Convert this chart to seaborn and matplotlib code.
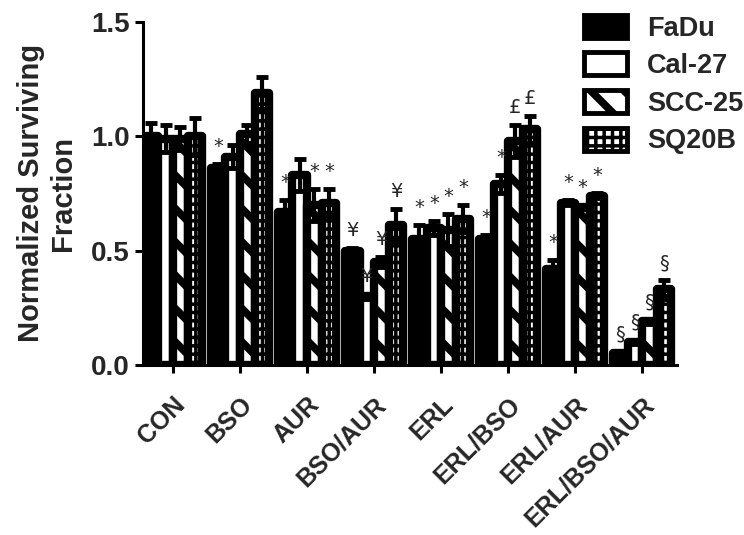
import pandas as pd
import matplotlib
matplotlib.use('Agg')
import matplotlib.pyplot as plt
import seaborn as sns
from matplotlib.patches import Patch

# groups on the x axis and the four cell lines
treatments = ['CON', 'BSO', 'AUR', 'BSO/AUR', 'ERL', 'ERL/BSO', 'ERL/AUR', 'ERL/BSO/AUR']
cell_lines = ['FaDu', 'Cal-27', 'SCC-25', 'SQ20B']

# mean surviving fraction per cell line (same order as treatments)
fadu = [1.00, 0.86, 0.67, 0.50, 0.55, 0.55, 0.42, 0.05]
cal27 = [0.99, 0.91, 0.83, 0.30, 0.60, 0.79, 0.71, 0.10]
scc25 = [0.99, 1.01, 0.70, 0.45, 0.59, 0.98, 0.69, 0.19]
sq20b = [1.00, 1.19, 0.71, 0.61, 0.64, 1.03, 0.74, 0.33]

# error (sem) per cell line
fadu_err = [0.06, 0.02, 0.05, 0.01, 0.06, 0.02, 0.04, 0.01]
cal27_err = [0.06, 0.05, 0.07, 0.01, 0.03, 0.04, 0.01, 0.01]
scc25_err = [0.05, 0.04, 0.07, 0.02, 0.07, 0.07, 0.01, 0.01]
sq20b_err = [0.08, 0.07, 0.06, 0.07, 0.06, 0.06, 0.01, 0.04]

# significance marks above each bar
fadu_sig = ['', '*', '*', '¥', '*', '*', '*', '§']
cal27_sig = ['', '', '', '¥', '*', '*', '*', '§']
scc25_sig = ['', '', '*', '¥', '*', '£', '*', '§']
sq20b_sig = ['', '', '*', '¥', '*', '£', '*', '§']

values = [fadu, cal27, scc25, sq20b]
errors = [fadu_err, cal27_err, scc25_err, sq20b_err]
marks = [fadu_sig, cal27_sig, scc25_sig, sq20b_sig]

rows = []
for line, vals in zip(cell_lines, values):
    for t, v in zip(treatments, vals):
        rows.append({'Treatment': t, 'Line': line, 'Value': v})
df = pd.DataFrame(rows)

sns.set_style('ticks')
plt.rcParams['font.family'] = ['Liberation Sans', 'DejaVu Sans']
plt.rcParams['hatch.linewidth'] = 5.5
plt.rcParams['hatch.color'] = 'black'

fig = plt.figure(figsize = (7.44, 5.35), dpi = 100)
ax = fig.add_axes([0.192, 0.318, 0.718, 0.641])

face = {'FaDu': 'black', 'Cal-27': 'white', 'SCC-25': 'white', 'SQ20B': 'white'}
hatches = ['', '', '\\', '++']
hatch_lw = [5.5, 5.5, 5.5, 2.5]


def set_hatch_lw(p, lw):
    # per-patch hatch width (matplotlib >= 3.10)
    try:
        p.set_hatch_linewidth(lw)
    except AttributeError:
        pass


sns.barplot(data = df, x = 'Treatment', y = 'Value', hue = 'Line', order = treatments,
            hue_order = cell_lines, palette = face, errorbar = None, width = 0.87,
            gap = 0, legend = False, ax = ax)

for cont, hatch, hlw, errs, sigs in zip(ax.containers, hatches, hatch_lw, errors, marks):
    xs = []
    ys = []
    for bar in cont.patches:
        bar.set_edgecolor('black')
        bar.set_linewidth(6)
        bar.set_hatch(hatch)
        set_hatch_lw(bar, hlw)
        bar.set_joinstyle('round')
        xs.append(bar.get_x() + bar.get_width() / 2)
        ys.append(bar.get_height())
    ax.errorbar(xs, ys, yerr = errs, fmt = 'none', ecolor = 'black', elinewidth = 3,
                capsize = 4, capthick = 3.5, zorder = 3)
    for x, y, e, s in zip(xs, ys, errs, sigs):
        if s:
            ax.text(x, y + e + 0.035, s, ha = 'center', va = 'bottom', fontsize = 14,
                    family = ['DejaVu Sans'])

ax.set_ylim(0, 1.5)
ax.set_xlim(-0.45, 7.52)
ax.set_yticks([0.0, 0.5, 1.0, 1.5])
ax.set_yticklabels(['0.0', '0.5', '1.0', '1.5'], fontsize = 20, fontweight = 'bold')
ax.set_xticks(range(len(treatments)))
ax.set_xticklabels(treatments, rotation = 45, ha = 'right', rotation_mode = 'anchor',
                   fontsize = 18, fontweight = 'bold')
ax.set_xlabel('')
ax.set_ylabel('Normalized Surviving\nFraction', fontsize = 21, fontweight = 'bold', labelpad = 10)
ax.tick_params(axis = 'both', width = 2.2, length = 6, direction = 'out', color = 'black')
ax.tick_params(axis = 'x', pad = 14)
sns.despine(ax = ax)
for sp in ['left', 'bottom']:
    ax.spines[sp].set_linewidth(2.2)
    ax.spines[sp].set_color('black')

handles = []
for l, h, hlw in zip(cell_lines, hatches, hatch_lw):
    p = Patch(facecolor = face[l], edgecolor = 'black', linewidth = 3.5, hatch = h, label = l)
    set_hatch_lw(p, hlw)
    handles.append(p)
leg = fig.legend(handles = handles, loc = 'upper left', bbox_to_anchor = (0.759, 1.008),
                 frameon = False, prop = {'size': 19.5, 'weight': 'bold'}, handlelength = 1.6,
                 handleheight = 0.93, handletextpad = 0.74, labelspacing = 0.4, borderpad = 0.2)
for lp, hlw in zip(leg.get_patches(), hatch_lw):
    set_hatch_lw(lp, hlw)

fig.savefig('out.png', dpi = 100)
